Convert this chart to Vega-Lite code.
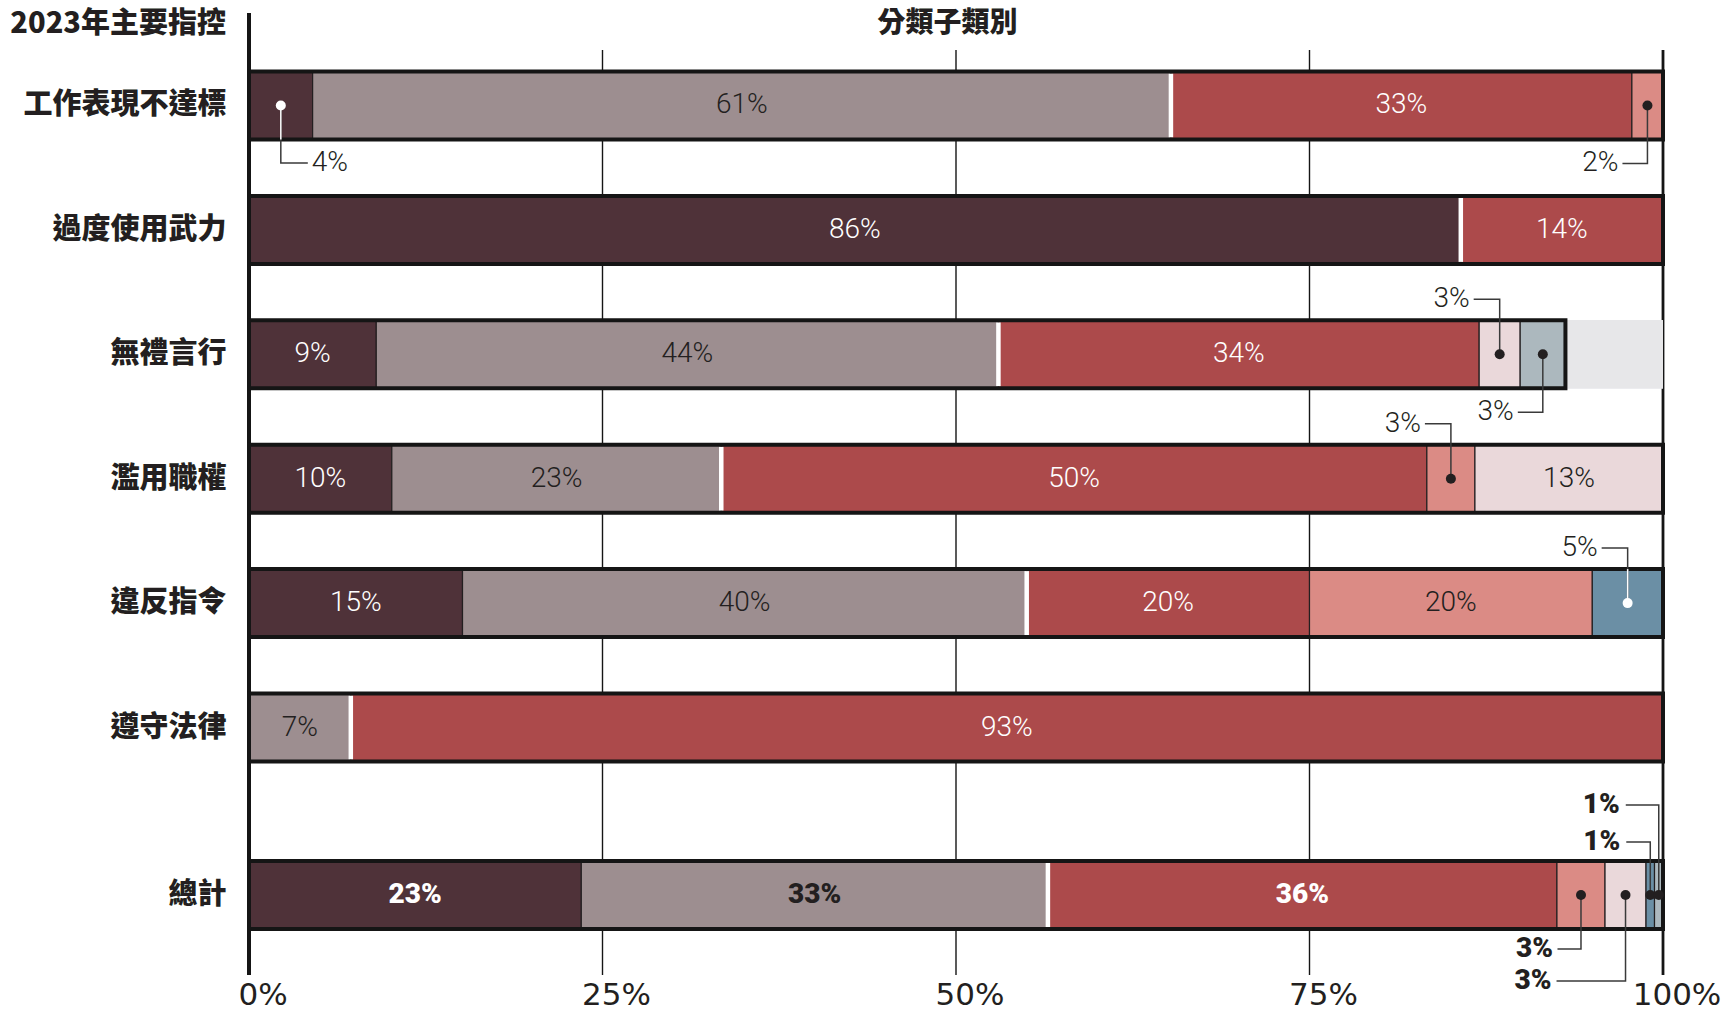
{
  "$schema": "https://vega.github.io/schema/vega-lite/v6.json",
  "background": "white",
  "padding": {"left": 0, "top": 10, "right": 0, "bottom": 0},
  "bounds": "flush",
  "spacing": 0,
  "resolve": {"scale": {"x": "independent", "y": "independent", "color": "independent"}},
  "config": {"view": {"stroke": null}, "text": {"font": "Roboto"}},
  "datasets": {
    "header": [
      {"label": "2023年主要指控", "part": "rowtitle"},
      {"label": "分類子類別", "part": "coltitle"}
    ],
    "grid": [
      {"v": 0, "label": "0%"},
      {"v": 25, "label": "25%"},
      {"v": 50, "label": "50%"},
      {"v": 75, "label": "75%"},
      {"v": 100, "label": "100%"}
    ],
    "seg": [
      {"row": "工作表現不達標", "cat": "類別1", "pct": 4.5, "label": "4%"},
      {"row": "工作表現不達標", "cat": "類別2", "pct": 60.7, "label": "61%"},
      {"row": "工作表現不達標", "cat": "類別3", "pct": 32.6, "label": "33%"},
      {"row": "工作表現不達標", "cat": "類別4", "pct": 2.2, "label": "2%"},
      {"row": "過度使用武力", "cat": "類別1", "pct": 85.7, "label": "86%"},
      {"row": "過度使用武力", "cat": "類別3", "pct": 14.3, "label": "14%"},
      {"row": "無禮言行", "cat": "類別1", "pct": 9.0, "label": "9%"},
      {"row": "無禮言行", "cat": "類別2", "pct": 44.0, "label": "44%"},
      {"row": "無禮言行", "cat": "類別3", "pct": 34.0, "label": "34%"},
      {"row": "無禮言行", "cat": "類別5", "pct": 2.9, "label": "3%"},
      {"row": "無禮言行", "cat": "類別7", "pct": 3.2, "label": "3%"},
      {"row": "濫用職權", "cat": "類別1", "pct": 10.1, "label": "10%"},
      {"row": "濫用職權", "cat": "類別2", "pct": 23.3, "label": "23%"},
      {"row": "濫用職權", "cat": "類別3", "pct": 49.9, "label": "50%"},
      {"row": "濫用職權", "cat": "類別4", "pct": 3.4, "label": "3%"},
      {"row": "濫用職權", "cat": "類別5", "pct": 13.3, "label": "13%"},
      {"row": "違反指令", "cat": "類別1", "pct": 15.1, "label": "15%"},
      {"row": "違反指令", "cat": "類別2", "pct": 39.9, "label": "40%"},
      {"row": "違反指令", "cat": "類別3", "pct": 20.0, "label": "20%"},
      {"row": "違反指令", "cat": "類別4", "pct": 20.0, "label": "20%"},
      {"row": "違反指令", "cat": "類別6", "pct": 5.0, "label": "5%"},
      {"row": "遵守法律", "cat": "類別2", "pct": 7.2, "label": "7%"},
      {"row": "遵守法律", "cat": "類別3", "pct": 92.8, "label": "93%"},
      {"row": "總計", "cat": "類別1", "pct": 23.5, "label": "23%"},
      {"row": "總計", "cat": "類別2", "pct": 33.0, "label": "33%"},
      {"row": "總計", "cat": "類別3", "pct": 36.0, "label": "36%"},
      {"row": "總計", "cat": "類別4", "pct": 3.4, "label": "3%"},
      {"row": "總計", "cat": "類別5", "pct": 2.9, "label": "3%"},
      {"row": "總計", "cat": "類別6", "pct": 0.6, "label": "1%"},
      {"row": "總計", "cat": "類別7", "pct": 0.6, "label": "1%"}
    ]
  },
  "vconcat": [
    {
      "width": 1414,
      "height": 37,
      "data": {"name": "header"},
      "layer": [
        {
          "mark": {"type": "rule", "color": "#151515", "strokeWidth": 4},
          "encoding": {"x": {"datum": 0, "type": "quantitative", "scale": {"domain": [0, 100], "nice": false}, "axis": null}}
        },
        {
          "transform": [{"filter": "datum.part === 'rowtitle'"}],
          "mark": {"type": "text", "align": "right", "baseline": "middle", "dx": -23, "dy": -7.5, "font": "Noto Sans CJK TC", "fontWeight": 900, "fontSize": 29, "color": "#231f20"},
          "encoding": {"x": {"datum": 0, "type": "quantitative", "axis": null}, "text": {"field": "label"}}
        },
        {
          "transform": [{"filter": "datum.part === 'coltitle'"}],
          "mark": {"type": "text", "align": "center", "baseline": "middle", "dy": -7.5, "font": "Noto Sans CJK TC", "fontWeight": 900, "fontSize": 28, "color": "#231f20"},
          "encoding": {"x": {"datum": 49.4, "type": "quantitative", "axis": null}, "text": {"field": "label"}}
        }
      ]
    },
    {
      "width": 1414,
      "height": 733,
      "layer": [
        {
          "data": {"name": "grid"},
          "mark": {"type": "rule", "color": "#151515"},
          "encoding": {
            "x": {"field": "v", "type": "quantitative", "title": null, "scale": {"domain": [0, 100], "nice": false}, "axis": null},
            "strokeWidth": {"condition": [{"test": "datum.v === 0", "value": 4}, {"test": "datum.v === 100", "value": 2.8}], "value": 1.4}
          }
        },
        {
          "data": {"name": "seg"},
          "transform": [{"filter": "datum.row !== '總計'"}],
          "encoding": {
            "y": {
              "field": "row", "type": "nominal", "title": null,
              "sort": ["工作表現不達標", "過度使用武力", "無禮言行", "濫用職權", "違反指令", "遵守法律"],
              "scale": {"paddingInner": 0.4534, "paddingOuter": 0.1728},
              "axis": {"title": null, "domain": false, "ticks": false, "grid": false, "labelFont": "Noto Sans CJK TC", "labelFontWeight": 900, "labelFontSize": 29, "labelColor": "#231f20", "labelPadding": 23, "labelLimit": 0, "minExtent": 249, "maxExtent": 249}
            }
          },
          "layer": [
            {
              "mark": {"type": "bar", "color": "#E7E7E9"},
              "encoding": {"x": {"datum": 0, "type": "quantitative", "axis": null}, "x2": {"datum": 100}}
            },
            {
              "mark": {"type": "bar", "stroke": "#231f20", "strokeWidth": 1.2},
              "encoding": {
                "x": {"field": "pct", "type": "quantitative", "stack": "zero", "title": null, "axis": null},
                "color": {"field": "cat", "type": "nominal", "legend": null,
                  "scale": {"domain": ["類別1", "類別2", "類別3", "類別4", "類別5", "類別6", "類別7"], "range": ["#4F3239", "#9D8E90", "#AC4A4B", "#DB8B85", "#EAD8DA", "#6B8FA5", "#ACB8BE"]}},
                "order": {"field": "cat", "type": "ordinal", "sort": "ascending"}
              }
            },
            {
              "transform": [
                {"stack": "pct", "groupby": ["row"], "sort": [{"field": "cat"}], "as": ["x0", "x1"]},
                {"filter": "datum.cat === '類別3'"}
              ],
              "mark": {"type": "tick", "color": "white", "thickness": 4.5, "size": 64, "opacity": 1},
              "encoding": {"x": {"field": "x0", "type": "quantitative", "title": null, "axis": null}}
            },
            {
              "mark": {"type": "bar", "fill": "transparent", "stroke": "#151515", "strokeWidth": 4},
              "encoding": {"x": {"aggregate": "sum", "field": "pct", "type": "quantitative", "title": null, "axis": null}}
            },
            {
              "transform": [
                {"stack": "pct", "groupby": ["row"], "sort": [{"field": "cat"}], "as": ["x0", "x1"]},
                {"fold": ["x0", "x1"], "as": ["edge", "xv"]},
                {"aggregate": [{"op": "mean", "field": "xv", "as": "mid"}], "groupby": ["row", "cat", "label", "pct"]}
              ],
              "encoding": {"x": {"field": "mid", "type": "quantitative", "title": null, "axis": null}},
              "layer": [
                {
                  "transform": [{"filter": "datum.pct >= 6"}],
                  "mark": {"type": "text", "font": "Roboto", "fontWeight": 300, "fontSize": 28, "align": "center", "baseline": "middle"},
                  "encoding": {
                    "text": {"field": "label"},
                    "color": {"condition": {"test": "datum.cat === '類別1' || datum.cat === '類別3'", "value": "white"}, "value": "#231f20"}
                  }
                },
                {
                  "transform": [{"filter": "datum.row === '工作表現不達標' && datum.cat === '類別1'"}],
                  "layer": [
                    {"mark": {"type": "point", "shape": "M0,0V0.575H0.27", "size": 40000, "filled": false, "color": "#3a3a3a", "strokeWidth": 1.5, "opacity": 1}},
                    {"mark": {"type": "point", "shape": "M0,0V0.34", "size": 40000, "filled": false, "color": "white", "strokeWidth": 1.5, "opacity": 1}},
                    {"mark": {"type": "text", "font": "Roboto", "fontWeight": 300, "fontSize": 28, "align": "left", "baseline": "middle", "dx": 31, "dy": 57.5, "color": "#231f20"}, "encoding": {"text": {"field": "label"}}}
                  ]
                },
                {
                  "transform": [{"filter": "(datum.row === '工作表現不達標' && datum.cat === '類別4') || (datum.row === '無禮言行' && datum.cat === '類別7')"}],
                  "layer": [
                    {"mark": {"type": "point", "shape": "M0,0V0.58H-0.25", "size": 40000, "filled": false, "color": "#3a3a3a", "strokeWidth": 1.5, "opacity": 1}},
                    {"mark": {"type": "text", "font": "Roboto", "fontWeight": 300, "fontSize": 28, "align": "right", "baseline": "middle", "dx": -29, "dy": 58, "color": "#231f20"}, "encoding": {"text": {"field": "label"}}}
                  ]
                },
                {
                  "transform": [{"filter": "(datum.row === '無禮言行' && datum.cat === '類別5') || (datum.row === '濫用職權' && datum.cat === '類別4') || (datum.row === '違反指令' && datum.cat === '類別6')"}],
                  "layer": [
                    {"mark": {"type": "point", "shape": "M0,0V-0.55H-0.26", "size": 40000, "filled": false, "color": "#3a3a3a", "strokeWidth": 1.5, "opacity": 1}},
                    {"transform": [{"filter": "datum.cat === '類別6'"}], "mark": {"type": "point", "shape": "M0,0V-0.34", "size": 40000, "filled": false, "color": "white", "strokeWidth": 1.5, "opacity": 1}},
                    {"mark": {"type": "text", "font": "Roboto", "fontWeight": 300, "fontSize": 28, "align": "right", "baseline": "middle", "dx": -30, "dy": -55, "color": "#231f20"}, "encoding": {"text": {"field": "label"}}}
                  ]
                },
                {
                  "transform": [{"filter": "datum.pct < 6"}],
                  "mark": {"type": "point", "shape": "circle", "filled": true, "size": 100, "opacity": 1},
                  "encoding": {"color": {"condition": {"test": "datum.cat === '類別1' || datum.cat === '類別6'", "value": "white"}, "value": "#231f20"}}
                }
              ]
            }
          ]
        }
      ]
    },
    {
      "width": 1414,
      "height": 192,
      "layer": [
        {
          "data": {"name": "grid"},
          "encoding": {"x": {"field": "v", "type": "quantitative", "title": null, "scale": {"domain": [0, 100], "nice": false}, "axis": null}},
          "layer": [
            {
              "mark": {"type": "rule", "color": "#151515"},
              "encoding": {"strokeWidth": {"condition": [{"test": "datum.v === 0", "value": 4}, {"test": "datum.v === 100", "value": 2.8}], "value": 1.4}}
            },
            {
              "mark": {"type": "text", "font": "DejaVu Sans", "fontWeight": 400, "fontSize": 31, "align": "center", "baseline": "middle", "dx": 14, "dy": 117, "color": "#231f20"},
              "encoding": {"text": {"field": "label"}}
            }
          ]
        },
        {
          "data": {"name": "seg"},
          "transform": [{"filter": "datum.row === '總計'"}],
          "encoding": {
            "y": {
              "field": "row", "type": "nominal", "title": null,
              "scale": {"paddingInner": 0, "paddingOuter": 0.9118, "align": 0.629},
              "axis": {"title": null, "domain": false, "ticks": false, "grid": false, "labelFont": "Noto Sans CJK TC", "labelFontWeight": 900, "labelFontSize": 29, "labelColor": "#231f20", "labelPadding": 23, "labelLimit": 0, "minExtent": 249, "maxExtent": 249}
            }
          },
          "layer": [
            {
              "mark": {"type": "bar", "stroke": "#231f20", "strokeWidth": 1.2},
              "encoding": {
                "x": {"field": "pct", "type": "quantitative", "stack": "zero", "title": null, "axis": null},
                "color": {"field": "cat", "type": "nominal", "legend": null,
                  "scale": {"domain": ["類別1", "類別2", "類別3", "類別4", "類別5", "類別6", "類別7"], "range": ["#4F3239", "#9D8E90", "#AC4A4B", "#DB8B85", "#EAD8DA", "#6B8FA5", "#ACB8BE"]}},
                "order": {"field": "cat", "type": "ordinal", "sort": "ascending"}
              }
            },
            {
              "transform": [
                {"stack": "pct", "groupby": ["row"], "sort": [{"field": "cat"}], "as": ["x0", "x1"]},
                {"filter": "datum.cat === '類別3'"}
              ],
              "mark": {"type": "tick", "color": "white", "thickness": 4.5, "size": 64, "opacity": 1},
              "encoding": {"x": {"field": "x0", "type": "quantitative", "title": null, "axis": null}}
            },
            {
              "mark": {"type": "bar", "fill": "transparent", "stroke": "#151515", "strokeWidth": 4},
              "encoding": {"x": {"aggregate": "sum", "field": "pct", "type": "quantitative", "title": null, "axis": null}}
            },
            {
              "transform": [
                {"stack": "pct", "groupby": ["row"], "sort": [{"field": "cat"}], "as": ["x0", "x1"]},
                {"fold": ["x0", "x1"], "as": ["edge", "xv"]},
                {"aggregate": [{"op": "mean", "field": "xv", "as": "mid"}], "groupby": ["row", "cat", "label", "pct"]}
              ],
              "encoding": {"x": {"field": "mid", "type": "quantitative", "title": null, "axis": null}},
              "layer": [
                {
                  "transform": [{"filter": "datum.pct >= 6"}],
                  "mark": {"type": "text", "font": "Roboto", "fontWeight": 900, "fontSize": 28, "align": "center", "baseline": "middle"},
                  "encoding": {
                    "text": {"field": "label"},
                    "color": {"condition": {"test": "datum.cat === '類別1' || datum.cat === '類別3'", "value": "white"}, "value": "#231f20"}
                  }
                },
                {
                  "transform": [{"filter": "datum.cat === '類別4'"}],
                  "layer": [
                    {"mark": {"type": "point", "shape": "M0,0V0.54H-0.235", "size": 40000, "filled": false, "color": "#3a3a3a", "strokeWidth": 1.5, "opacity": 1}},
                    {"mark": {"type": "text", "font": "Roboto", "fontWeight": 900, "fontSize": 28, "align": "right", "baseline": "middle", "dx": -28, "dy": 54, "color": "#231f20"}, "encoding": {"text": {"field": "label"}}}
                  ]
                },
                {
                  "transform": [{"filter": "datum.cat === '類別5'"}],
                  "layer": [
                    {"mark": {"type": "point", "shape": "M0,0V0.86H-0.69", "size": 40000, "filled": false, "color": "#3a3a3a", "strokeWidth": 1.5, "opacity": 1}},
                    {"mark": {"type": "text", "font": "Roboto", "fontWeight": 900, "fontSize": 28, "align": "right", "baseline": "middle", "dx": -74, "dy": 86, "color": "#231f20"}, "encoding": {"text": {"field": "label"}}}
                  ]
                },
                {
                  "transform": [{"filter": "datum.cat === '類別6'"}],
                  "layer": [
                    {"mark": {"type": "point", "shape": "M0,0V-0.53H-0.24", "size": 40000, "filled": false, "color": "#3a3a3a", "strokeWidth": 1.5, "opacity": 1}},
                    {"mark": {"type": "text", "font": "Roboto", "fontWeight": 900, "fontSize": 28, "align": "right", "baseline": "middle", "dx": -30, "dy": -53, "color": "#231f20"}, "encoding": {"text": {"field": "label"}}}
                  ]
                },
                {
                  "transform": [{"filter": "datum.cat === '類別7'"}],
                  "layer": [
                    {"mark": {"type": "point", "shape": "M0,0V-0.9H-0.33", "size": 40000, "filled": false, "color": "#3a3a3a", "strokeWidth": 1.5, "opacity": 1}},
                    {"mark": {"type": "text", "font": "Roboto", "fontWeight": 900, "fontSize": 28, "align": "right", "baseline": "middle", "dx": -39, "dy": -90, "color": "#231f20"}, "encoding": {"text": {"field": "label"}}}
                  ]
                },
                {
                  "transform": [{"filter": "datum.pct < 6"}],
                  "mark": {"type": "point", "shape": "circle", "filled": true, "size": 100, "opacity": 1, "color": "#231f20"}
                }
              ]
            }
          ]
        }
      ]
    }
  ]
}
